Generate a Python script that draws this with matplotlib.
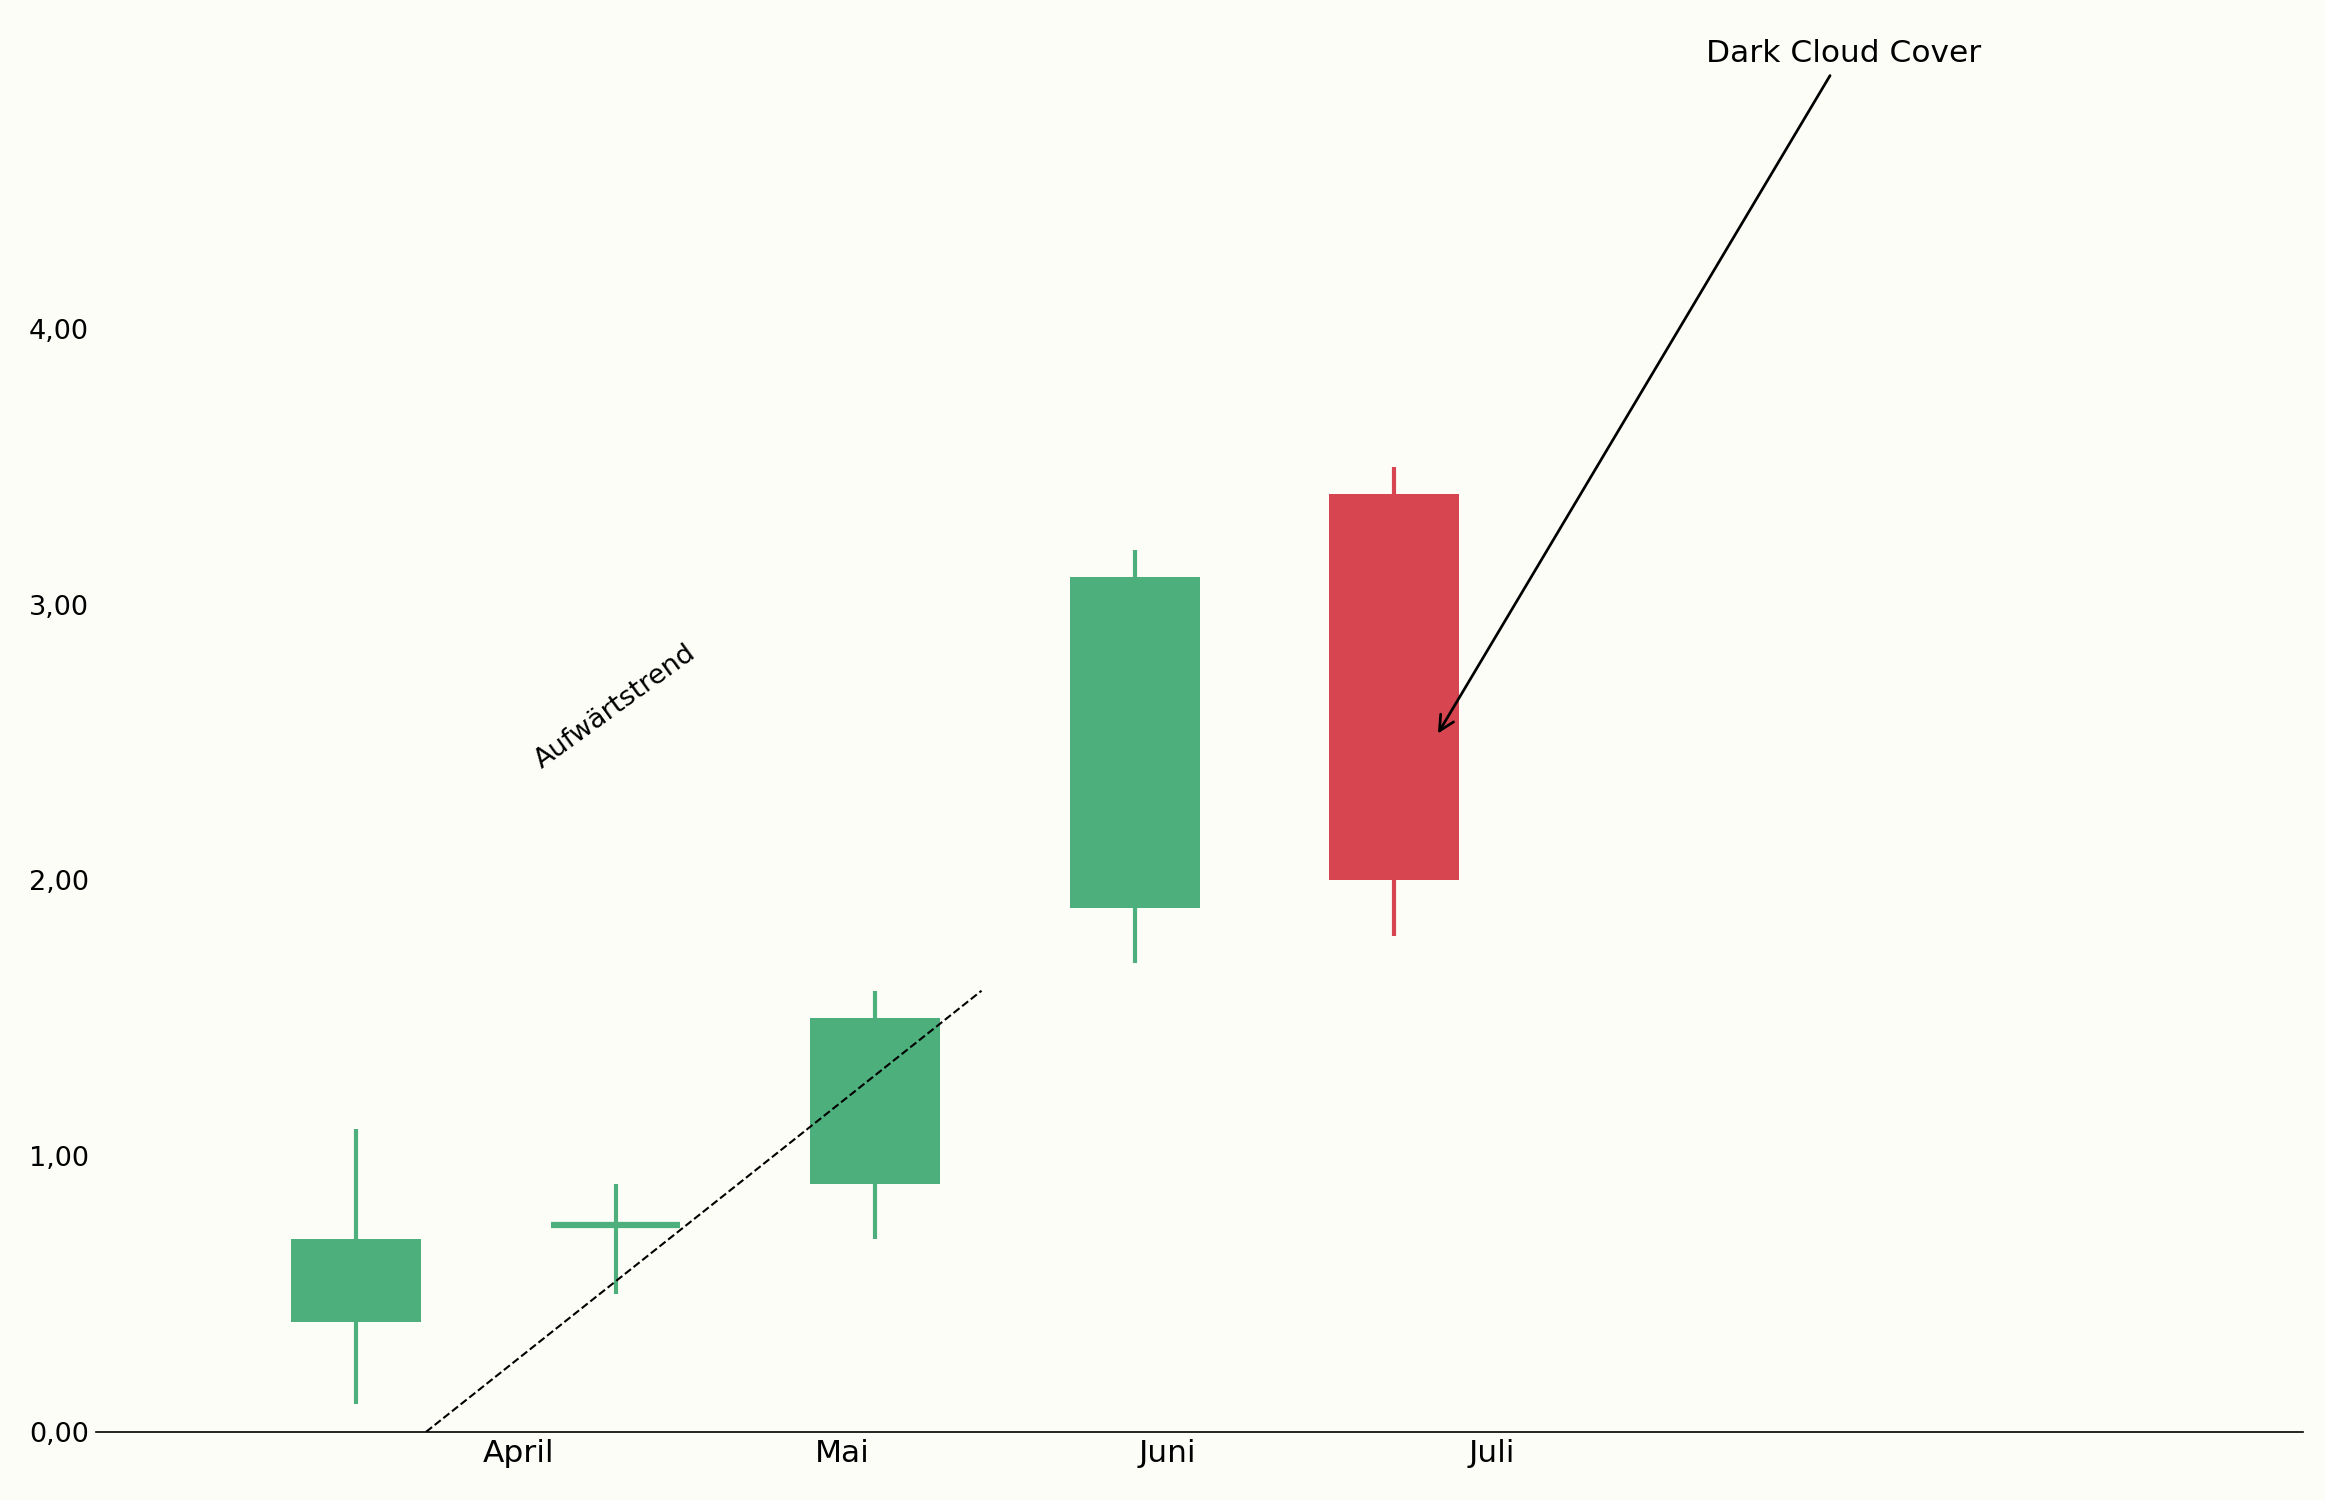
import matplotlib
matplotlib.use("Agg")
import matplotlib.pyplot as plt

xs = [1, 2, 3, 4, 5]
opens = [0.4, 0.75, 0.9, 1.9, 3.4]
closes = [0.7, 0.75, 1.5, 3.1, 2.0]
lows = [0.1, 0.5, 0.7, 1.7, 1.8]
highs = [1.1, 0.9, 1.6, 3.2, 3.5]
tick_pos = [1.625, 2.875, 4.125, 5.375]
tick_labels = ["April", "Mai", "Juni", "Juli"]
trend_x = [1.27, 3.41]
trend_y = [0.0, 1.6]

green, red, bg = "#4daf7c", "#d64550", "#fdfdf8"
fig = plt.figure(figsize=(15.5, 10), dpi=150, facecolor=bg)
ax = fig.add_axes([65/1568, 46/1013, (1553-65)/1568, (967-36)/1013], facecolor=bg)
w = 0.5
for x, o, c, l, h in zip(xs, opens, closes, lows, highs):
    col = green if c >= o else red
    ax.vlines(x, l, h, color=col, lw=2, zorder=1)
    if c == o:
        ax.hlines(o, x - w/2, x + w/2, color=col, lw=3, zorder=2)
    else:
        ax.bar(x, abs(c - o), bottom=min(o, c), width=w, color=col, zorder=2)
ax.plot(trend_x, trend_y, "k--", lw=1)
ax.text(2.0, 2.63, "Aufwärtstrend", rotation=36, ha="center", va="center", fontsize=13)
ax.annotate("Dark Cloud Cover", xy=(5.16, 2.52), xytext=(6.73, 5.0),
            ha="center", va="center", fontsize=15,
            arrowprops=dict(arrowstyle="->", color="black", lw=1.3, mutation_scale=18))
ax.set_xlim(0, 8.5)
ax.set_ylim(0, 5)
ax.set_yticks([0, 1, 2, 3, 4])
ax.set_yticklabels(["0,00", "1,00", "2,00", "3,00", "4,00"], fontsize=13)
ax.set_xticks(tick_pos)
ax.set_xticklabels(tick_labels, fontsize=15)
ax.tick_params(length=0)
for s in ["top", "right", "left"]:
    ax.spines[s].set_visible(False)
fig.savefig("out.png", dpi=150, facecolor=bg)
